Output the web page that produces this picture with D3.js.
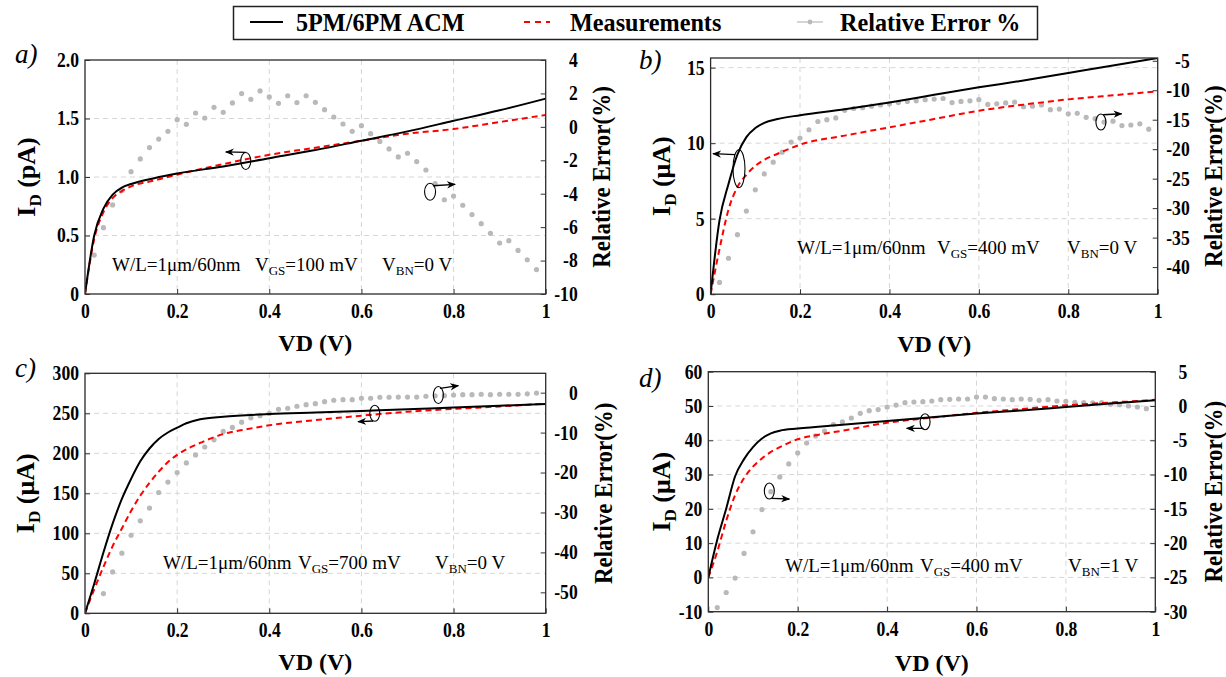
<!DOCTYPE html>
<html><head><meta charset="utf-8">
<script src="https://cdn.jsdelivr.net/npm/d3@7"></script>
<style>
body{margin:0;background:#fff}
svg{display:block}
</style>
</head><body>
<svg id="chart" width="1226" height="677"></svg>
<script>
// ---------------- DATA ----------------
const xTickVals = [0, 0.2, 0.4, 0.6, 0.8, 1];
const xTickLabels = ["0", "0.2", "0.4", "0.6", "0.8", "1"];

// common VD sampling of relative-error points (0.02 ... 0.98)
const errVD = [0.02,0.04,0.06,0.08,0.10,0.12,0.14,0.16,0.18,0.20,0.22,0.24,0.26,0.28,0.30,0.32,0.34,0.36,0.38,0.40,
  0.42,0.44,0.46,0.48,0.50,0.52,0.54,0.56,0.58,0.60,0.62,0.64,0.66,0.68,0.70,0.72,0.74,0.76,0.78,0.80,
  0.82,0.84,0.86,0.88,0.90,0.92,0.94,0.96,0.98];
const errVDc = errVD.slice(1); // panel c: first point lies below the axis range

// Panel a) VGS=100 mV, VBN=0 V  (ID in pA)
const aVD = [0,0.02,0.04,0.06,0.08,0.1,0.15,0.2,0.3,0.4,0.5,0.6,0.7,0.8,0.9,1.0];
const aModel = [0,0.50,0.73,0.85,0.91,0.94,0.99,1.03,1.09,1.16,1.23,1.31,1.39,1.48,1.57,1.67];
const aMeas  = [0,0.47,0.70,0.82,0.88,0.92,0.97,1.02,1.11,1.19,1.25,1.31,1.37,1.41,1.47,1.53];
const aErr = [-7.67,-6.03,-4.67,-3.82,-2.68,-1.92,-1.24,-0.73,-0.27,0.43,0.15,0.83,0.53,1.17,0.87,1.43,1.99,1.65,2.15,1.79,
  1.41,1.86,1.45,1.86,1.47,1.03,0.59,0.17,-0.27,0.07,-0.41,-0.87,-1.32,-1.80,-1.58,-2.08,-2.58,-3.4,-4.36,-4.14,
  -4.69,-5.25,-5.79,-6.37,-6.95,-6.81,-7.39,-7.95,-8.54];
const aLeftTicks = [0, 0.5, 1.0, 1.5, 2.0];
const aLeftLabels = ["0", "0.5", "1.0", "1.5", "2.0"];
const aRightTicks = [-10, -8, -6, -4, -2, 0, 2, 4];
const aRightLabels = ["-10", "-8", "-6", "-4", "-2", "0", "2", "4"];

// Panel b) VGS=400 mV, VBN=0 V  (ID in uA)
const bVD = [0,0.02,0.04,0.06,0.08,0.1,0.12,0.15,0.2,0.3,0.4,0.5,0.6,0.7,0.8,0.9,1.0];
const bModel = [0,4.9,7.3,9.25,10.4,11.0,11.35,11.6,11.85,12.25,12.7,13.2,13.7,14.15,14.65,15.15,15.64];
const bMeas  = [0,3.0,5.6,7.1,7.9,8.5,8.9,9.3,9.9,10.5,11.05,11.6,12.15,12.55,12.9,13.17,13.43];
const bErr = [-42.6,-38.5,-34.5,-30.5,-26.9,-24.2,-22.2,-20.5,-18.8,-18.1,-16.7,-15.3,-15.0,-14.7,-13.4,-13.1,-12.95,-12.7,-12.5,-12.3,
  -12.1,-11.9,-11.8,-11.6,-11.5,-11.4,-12.1,-11.9,-11.8,-11.6,-12.4,-12.3,-12.15,-12.0,-12.8,-12.7,-12.5,-13.3,-13.2,-14.0,
  -13.9,-14.6,-14.8,-15.4,-15.25,-16.0,-15.9,-15.7,-16.6];
const bLeftTicks = [0, 5, 10, 15];
const bLeftLabels = ["0", "5", "10", "15"];
const bRightTicks = [-40, -35, -30, -25, -20, -15, -10, -5];
const bRightLabels = ["-40", "-35", "-30", "-25", "-20", "-15", "-10", "-5"];

// Panel c) VGS=700 mV, VBN=0 V
const cModelVD = [0,0.02,0.04,0.06,0.08,0.1,0.12,0.14,0.16,0.18,0.2,0.22,0.25,0.3,0.4,0.5,0.6,0.7,0.8,0.9,1.0];
const cModel = [0,37,76,112,143,168,190,206,218,226,232,237.5,242.5,245.8,249,251,253,255,257.3,259.5,261.5];
const cMeasVD = [0,0.02,0.04,0.06,0.08,0.1,0.12,0.14,0.16,0.18,0.2,0.25,0.3,0.35,0.4,0.5,0.6,0.7,0.8,0.9,1.0];
const cMeas  = [0,30,58,84,106,128,147,163,177,189,198,213,224,230,235,241.5,247,252,255.5,258.6,262];
const cErr = [-50.3,-44.9,-40.2,-35.7,-32.1,-28.9,-25.0,-22.4,-20.0,-17.6,-15.6,-13.6,-11.8,-9.7,-8.7,-7.4,-6.3,-5.75,-5.2,-4.15,
  -3.9,-3.4,-3.0,-2.75,-2.25,-1.9,-1.75,-1.75,-1.4,-1.4,-1.15,-1.15,-1.1,-1.1,-1.1,-0.9,-0.8,-0.75,-0.6,-0.5,
  -0.5,-0.4,-0.5,-0.4,-0.4,-0.4,-0.3,-0.1];
const cLeftTicks = [0, 50, 100, 150, 200, 250, 300];
const cLeftLabels = ["0", "50", "100", "150", "200", "250", "300"];
const cRightTicks = [-50, -40, -30, -20, -10, 0];
const cRightLabels = ["-50", "-40", "-30", "-20", "-10", "0"];

// Panel d) VGS=400 mV, VBN=1 V
const dModelVD = [0,0.02,0.04,0.06,0.08,0.1,0.12,0.14,0.16,0.2,0.3,0.4,0.5,0.6,0.7,0.8,0.9,1.0];
const dModel = [0,11,20,29.5,34.5,38,40.5,42,42.8,43.4,44.5,45.6,46.7,47.8,48.7,49.7,50.7,51.7];
const dMeasVD = [0,0.02,0.04,0.06,0.08,0.1,0.12,0.14,0.16,0.2,0.25,0.3,0.4,0.5,0.6,0.7,0.8,0.9,1.0];
const dMeas  = [0,7.5,16.5,24,29,32.3,34.7,36.6,38,40.3,41.7,42.8,45.1,46.6,48,49.1,50.2,51,51.8];
const dErr = [-29.4,-27.2,-25.1,-21.5,-18.35,-15.1,-12.5,-10.35,-8.45,-6.85,-5.4,-4.37,-3.65,-2.7,-2.33,-1.75,-1.07,-0.68,-0.53,-0.15,
  0.14,0.49,0.58,0.63,0.73,0.92,0.97,1.02,1.02,1.31,1.31,1.07,1.02,0.92,1.02,0.97,0.83,0.92,0.73,0.68,
  0.53,0.49,0.44,0.49,0.24,0.19,0.0,-0.15,-0.39];
const dLeftTicks = [-10, 0, 10, 20, 30, 40, 50, 60];
const dLeftLabels = ["-10", "0", "10", "20", "30", "40", "50", "60"];
const dRightTicks = [-30, -25, -20, -15, -10, -5, 0, 5];
const dRightLabels = ["-30", "-25", "-20", "-15", "-10", "-5", "0", "5"];

const legendLabels = ["5PM/6PM ACM", "Measurements", "Relative Error %"];

// ---------------- LAYOUT ----------------
const FONT = '"Liberation Serif", "Times New Roman", Tinos, serif';
const svg = d3.select("#chart");
const RED = "#ff0000", GREY = "#b9b9b9";

const defs = svg.append("defs");
defs.append("marker").attr("id", "arr").attr("viewBox", "0 0 10 10")
  .attr("refX", 9).attr("refY", 5).attr("markerWidth", 9).attr("markerHeight", 9)
  .attr("markerUnits", "userSpaceOnUse").attr("orient", "auto")
  .append("path").attr("d", "M0,1 L10,5 L0,9 L3,5 Z").attr("fill", "#000");

// shrink glyph widths slightly (reference type is condensed)
function condense(sel, k) {
  sel.each(function () {
    const L = this.getComputedTextLength();
    this.setAttribute("textLength", (L * k).toFixed(2));
    this.setAttribute("lengthAdjust", "spacingAndGlyphs");
  });
}

const panels = [
  { key: "a", letter: "a)", box: [85, 545.7, 60, 294], yDom: [0, 2], rDom: [-10, 4], unit: "pA",
    modelVD: aVD, model: aModel, measVD: aVD, meas: aMeas, errVD: errVD, err: aErr,
    lt: aLeftTicks, ll: aLeftLabels, rt: aRightTicks, rl: aRightLabels,
    letterPos: [15, 63], ylabX: 26, rlabX: 601, xlabY: 351,
    note: { x0: 112, x1: 255, x2: 382, y: 271, vgs: "=100 mV", vbn: "=0 V" },
    ann: [ { x: 0.349, y: 1.137, rx: 5, ry: 8.5, a: [0, -8.5, -20, -9] },
           { x: 0.749, y: 0.874, rx: 5.5, ry: 8.5, a: [3, -6, 25, -7.4] } ] },
  { key: "b", letter: "b)", box: [710.6, 1157.7, 58, 294.2], yDom: [0, 15.64], rDom: [-44.6, -4.53], unit: "\u03bcA",
    modelVD: bVD, model: bModel, measVD: bVD, meas: bMeas, errVD: errVD, err: bErr,
    lt: bLeftTicks, ll: bLeftLabels, rt: bRightTicks, rl: bRightLabels,
    letterPos: [639, 69], ylabX: 661, rlabX: 1213, xlabY: 352,
    note: { x0: 797, x1: 937, x2: 1067, y: 254, vgs: "=400 mV", vbn: "=0 V" },
    ann: [ { x: 0.0635, y: 8.31, rx: 6, ry: 19, a: [-4, -14, -26, -15] },
           { x: 0.873, y: 11.4, rx: 5, ry: 8, a: [2.3, -7.3, 20.7, -8.3] } ] },
  { key: "c", letter: "c)", box: [85, 545.7, 373.3, 613.3], yDom: [0, 300], rDom: [-55.25, 4.85], unit: "\u03bcA",
    modelVD: cModelVD, model: cModel, measVD: cMeasVD, meas: cMeas, errVD: errVDc, err: cErr,
    lt: cLeftTicks, ll: cLeftLabels, rt: cRightTicks, rl: cRightLabels,
    letterPos: [15, 377], ylabX: 25, rlabX: 603, xlabY: 670,
    note: { x0: 163, x1: 298, x2: 435, y: 569, vgs: "=700 mV", vbn: "=0 V" },
    ann: [ { x: 0.767, y: 272.9, rx: 5, ry: 8.5, a: [1.7, -6.7, 20, -9.3] },
           { x: 0.629, y: 250, rx: 5, ry: 8, a: [-1.7, 7.7, -16.7, 8.4] } ] },
  { key: "d", letter: "d)", box: [708.3, 1155.3, 371.7, 611.7], yDom: [-10, 60], rDom: [-30, 5], unit: "\u03bcA",
    modelVD: dModelVD, model: dModel, measVD: dMeasVD, meas: dMeas, errVD: errVD, err: dErr,
    lt: dLeftTicks, ll: dLeftLabels, rt: dRightTicks, rl: dRightLabels,
    letterPos: [639, 387], ylabX: 661, rlabX: 1213, xlabY: 671,
    note: { x0: 785, x1: 920, x2: 1068, y: 572, vgs: "=400 mV", vbn: "=1 V" },
    ann: [ { x: 0.485, y: 45.4, rx: 5, ry: 8, a: [-1.7, 6.6, -18.3, 6.6] },
           { x: 0.1365, y: 25.2, rx: 5, ry: 8, a: [2.4, 7.3, 20, 8] } ] }
];

function drawPanel(p) {
  const [x0, x1, y0, y1] = p.box;
  const g = svg.append("g").attr("class", "panel-" + p.key);
  const x = d3.scaleLinear().domain([0, 1]).range([x0, x1]);
  const y = d3.scaleLinear().domain(p.yDom).range([y1, y0]);
  const yr = d3.scaleLinear().domain(p.rDom).range([y1, y0]);

  const clipId = "clip-" + p.key;
  defs.append("clipPath").attr("id", clipId).append("rect")
    .attr("x", x0).attr("y", y0).attr("width", x1 - x0).attr("height", y1 - y0);

  // grid
  const grid = g.append("g").attr("stroke", "#d6d6d6").attr("stroke-width", 1).attr("stroke-dasharray", "5,4");
  grid.selectAll("line.v").data(xTickVals.filter(v => v > 0 && v < 1)).join("line")
    .attr("x1", d => x(d)).attr("x2", d => x(d)).attr("y1", y0).attr("y2", y1);
  grid.selectAll("line.h").data(p.lt.filter(v => v > p.yDom[0] && v < p.yDom[1])).join("line")
    .attr("x1", x0).attr("x2", x1).attr("y1", d => y(d)).attr("y2", d => y(d));

  const plot = g.append("g").attr("clip-path", `url(#${clipId})`);
  // relative error points (right axis)
  plot.selectAll("circle").data(p.err.map((e, i) => [p.errVD[i], e])).join("circle")
    .attr("cx", d => x(d[0])).attr("cy", d => yr(d[1])).attr("r", 2.6).attr("fill", GREY);
  const line = d3.line().curve(d3.curveMonotoneX).x(d => x(d[0])).y(d => y(d[1]));
  // measurements
  plot.append("path").datum(p.meas.map((v, i) => [p.measVD[i], v]))
    .attr("d", line).attr("fill", "none").attr("stroke", RED).attr("stroke-width", 2).attr("stroke-dasharray", "6,4");
  // model
  plot.append("path").datum(p.model.map((v, i) => [p.modelVD[i], v]))
    .attr("d", line).attr("fill", "none").attr("stroke", "#000").attr("stroke-width", 2);

  // frame
  g.append("rect").attr("x", x0).attr("y", y0).attr("width", x1 - x0).attr("height", y1 - y0)
    .attr("fill", "none").attr("stroke", "#2a2a2a").attr("stroke-width", 1.3);

  const tickFont = t => t.attr("font-family", null).attr("font-size", null)
    .selectAll("text").style("font-family", FONT).style("font-size", "20px").style("font-weight", "bold").attr("fill", "#000");

  // bottom axis
  const ax = g.append("g").attr("transform", `translate(0,${y1})`)
    .call(d3.axisBottom(x).tickValues(xTickVals).tickFormat((d, i) => xTickLabels[i]).tickSize(-5).tickPadding(10));
  ax.select(".domain").remove(); ax.selectAll("line").attr("stroke", "#333");
  tickFont(ax);
  // left axis
  const al = g.append("g").attr("transform", `translate(${x0},0)`)
    .call(d3.axisLeft(y).tickValues(p.lt).tickFormat((d, i) => p.ll[i]).tickSize(-5).tickPadding(6));
  al.select(".domain").remove(); al.selectAll("line").attr("stroke", "#333");
  tickFont(al);
  // right axis
  const ar = g.append("g").attr("transform", `translate(${x1},0)`)
    .call(d3.axisRight(yr).tickValues(p.rt).tickFormat((d, i) => p.rl[i]).tickSize(-5).tickPadding(6));
  ar.select(".domain").remove(); ar.selectAll("line").attr("stroke", "#333");
  tickFont(ar);
  ar.selectAll("text").attr("text-anchor", "end").attr("x", 32);
  condense(ax.selectAll("text"), 0.88);
  condense(al.selectAll("text"), 0.88);
  condense(ar.selectAll("text"), 0.88);

  // axis titles
  g.append("text").attr("x", (x0 + x1) / 2).attr("y", p.xlabY).attr("text-anchor", "middle")
    .style("font-family", FONT).style("font-size", "24px").style("font-weight", "bold").text("VD (V)");
  const yl = g.append("text").attr("transform", `translate(${p.ylabX},${(y0 + y1) / 2}) rotate(-90)`)
    .attr("text-anchor", "middle").attr("dy", "0.35em")
    .style("font-family", FONT).style("font-size", "26px").style("font-weight", "bold");
  yl.append("tspan").text("I");
  yl.append("tspan").style("font-size", "17px").attr("dy", 6).text("D");
  yl.append("tspan").attr("dy", -6).text(" (" + p.unit + ")");
  const rl = g.append("text").attr("transform", `translate(${p.rlabX},${(y0 + y1) / 2}) rotate(-90)`)
    .attr("text-anchor", "middle").attr("dy", "0.35em")
    .style("font-family", FONT).style("font-size", "25px").style("font-weight", "bold")
    .text("Relative Error(%)");
  condense(rl, 0.92);

  // panel letter
  g.append("text").attr("x", p.letterPos[0]).attr("y", p.letterPos[1])
    .style("font-family", FONT).style("font-size", "27px").style("font-style", "italic").text(p.letter);

  // condition note
  const n = p.note;
  const nt = g.append("g");
  const noteText = (xx) => nt.append("text").attr("x", xx).attr("y", n.y)
    .style("font-family", FONT).style("font-size", "19px");
  noteText(n.x0).text("W/L=1\u03bcm/60nm");
  const t1 = noteText(n.x1);
  t1.append("tspan").text("V");
  t1.append("tspan").style("font-size", "13px").attr("dy", 4).text("GS");
  t1.append("tspan").attr("dy", -4).text(n.vgs);
  const t2 = noteText(n.x2);
  t2.append("tspan").text("V");
  t2.append("tspan").style("font-size", "13px").attr("dy", 4).text("BN");
  t2.append("tspan").attr("dy", -4).text(n.vbn);

  // ellipse + arrow annotations (anchored in data space)
  p.ann.forEach(a => {
    const cx = x(a.x), cy = y(a.y);
    g.append("ellipse").attr("cx", cx).attr("cy", cy).attr("rx", a.rx).attr("ry", a.ry)
      .attr("fill", "none").attr("stroke", "#000").attr("stroke-width", 1.1);
    g.append("line").attr("x1", cx + a.a[0]).attr("y1", cy + a.a[1]).attr("x2", cx + a.a[2]).attr("y2", cy + a.a[3])
      .attr("stroke", "#000").attr("stroke-width", 1.3).attr("marker-end", "url(#arr)");
  });
}

panels.forEach(drawPanel);

// ---------------- LEGEND ----------------
const lg = svg.append("g");
lg.append("rect").attr("x", 233.5).attr("y", 6.5).attr("width", 804).attr("height", 33)
  .attr("fill", "#fff").attr("stroke", "#222").attr("stroke-width", 1.5);
lg.append("line").attr("x1", 250).attr("x2", 283).attr("y1", 22).attr("y2", 22).attr("stroke", "#000").attr("stroke-width", 2);
lg.append("line").attr("x1", 524).attr("x2", 550).attr("y1", 22).attr("y2", 22).attr("stroke", RED)
  .attr("stroke-width", 2).attr("stroke-dasharray", "6,5");
lg.append("line").attr("x1", 797).attr("x2", 823).attr("y1", 22).attr("y2", 22).attr("stroke", GREY).attr("stroke-width", 1.2);
lg.append("circle").attr("cx", 810).attr("cy", 22).attr("r", 2.4).attr("fill", GREY);
const lx = [296, 570, 840];
legendLabels.forEach((t, i) => {
  const lt = lg.append("text").attr("x", lx[i]).attr("y", 31)
    .style("font-family", FONT).style("font-size", "26px").style("font-weight", "bold").text(t);
  condense(lt, 0.93);
});
</script>
</body></html>
